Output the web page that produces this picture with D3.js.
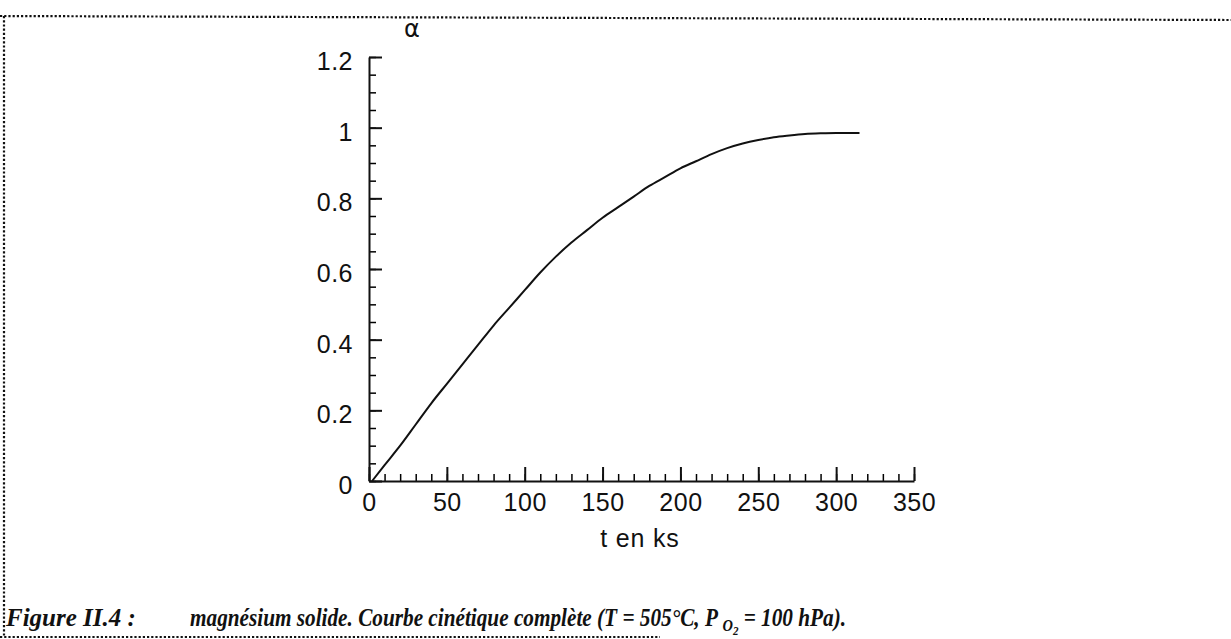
<!DOCTYPE html>
<html>
<head>
<meta charset="utf-8">
<script src="https://cdn.jsdelivr.net/npm/d3@7"></script>
<style>
  body { margin: 0; background: #fff; }
  svg { display: block; }
  .tick text { font-family: "Liberation Sans", Arial, sans-serif; }
</style>
</head>
<body>
<div id="container"></div>
<script>
// kinetic curve
const tValues = [2, 10, 20, 30, 40, 50, 60, 70, 80, 90, 100, 110, 120, 130, 140, 150, 160, 170, 180, 190, 200, 210, 220, 230, 240, 250, 260, 270, 280, 290, 300, 315];
const alphaValues = [0, 0.045, 0.10, 0.16, 0.22, 0.275, 0.33, 0.385, 0.44, 0.49, 0.54, 0.59, 0.635, 0.675, 0.71, 0.745, 0.775, 0.805, 0.835, 0.86, 0.885, 0.905, 0.925, 0.942, 0.955, 0.965, 0.973, 0.978, 0.982, 0.984, 0.985, 0.985];

const xTicks = [0, 50, 100, 150, 200, 250, 300, 350];
const yTicks = [0, 0.2, 0.4, 0.6, 0.8, 1, 1.2];
const xMinor = d3.range(0, 351, 10);
const yMinor = d3.range(0, 1.2001, 0.05);

const w = 1231;
const h = 639;
const margin = {top: 57, left: 369, bottom: 158, right: 317};
const graphWidth = w - margin.left - margin.right;
const graphHeight = h - margin.top - margin.bottom;

const svg = d3.select("#container").append("svg").attr("width", w).attr("height", h);

// dotted frame of the figure
const frame = svg.append("g")
	.attr("fill", "none")
	.attr("stroke", "#111")
	.attr("stroke-width", 2.2)
	.attr("stroke-dasharray", "2.2,2");
frame.append("line").attr("x1", 0).attr("y1", 16).attr("x2", w).attr("y2", 20);
frame.append("line").attr("x1", 4).attr("y1", 16).attr("x2", 4).attr("y2", 637);
frame.append("line").attr("x1", 0).attr("y1", 637).attr("x2", 660).attr("y2", 637);

const graph = svg.append("g").attr("transform", `translate(${margin.left}, ${margin.top})`);

const xScale = d3.scaleLinear().domain([0, 350]).range([0, graphWidth]);
const yScale = d3.scaleLinear().domain([0, 1.2]).range([graphHeight, 0]);

// minor ticks first, majors on top
graph.append("g")
	.attr("transform", `translate(0, ${graphHeight})`)
	.call(d3.axisBottom(xScale).tickValues(xMinor).tickSize(-7).tickFormat(""))
	.call(g => g.select(".domain").remove())
	.call(g => g.selectAll("line").attr("stroke-width", 1.5));
graph.append("g")
	.call(d3.axisLeft(yScale).tickValues(yMinor).tickSize(-7).tickFormat(""))
	.call(g => g.select(".domain").remove())
	.call(g => g.selectAll("line").attr("stroke-width", 1.5));

const xAxis = d3.axisBottom(xScale).tickValues(xTicks).tickSize(-14).tickSizeOuter(0).tickPadding(12).tickFormat(d3.format("d"));
const yAxis = d3.axisLeft(yScale).tickValues(yTicks).tickSize(-13).tickSizeOuter(0).tickPadding(16).tickFormat(d => d);

const xAxisGroup = graph.append("g").attr("transform", `translate(0, ${graphHeight})`).call(xAxis);
const yAxisGroup = graph.append("g").call(yAxis);

[xAxisGroup, yAxisGroup].forEach(g => {
	g.selectAll("path, line").attr("stroke", "#111").attr("stroke-width", 2);
	g.selectAll("text").attr("font-size", 25).attr("letter-spacing", 0.5).attr("fill", "#111");
});
yAxisGroup.selectAll("text").attr("dy", "0.5em");
xAxisGroup.selectAll("text").attr("dy", "0.72em");

// axis titles
graph.append("text")
	.attr("x", xScale(174))
	.attr("y", graphHeight + 66)
	.attr("text-anchor", "middle")
	.attr("font-family", "Liberation Sans, Arial, sans-serif")
	.attr("font-size", 25)
	.attr("letter-spacing", 0.8)
	.attr("fill", "#111")
	.text("t en ks");
graph.append("text")
	.attr("x", 43)
	.attr("y", -20)
	.attr("text-anchor", "middle")
	.attr("font-family", "DejaVu Sans, sans-serif")
	.attr("font-size", 24)
	.attr("fill", "#111")
	.text("α");

// the curve
const points = tValues.map((t, i) => [t, alphaValues[i]]);
const line = d3.line()
	.x(d => xScale(d[0]))
	.y(d => yScale(d[1]))
	.curve(d3.curveMonotoneX);
graph.append("path")
	.datum(points)
	.attr("fill", "none")
	.attr("stroke", "#111")
	.attr("stroke-width", 2)
	.attr("d", line);

// caption
const caption = svg.append("g")
	.attr("font-family", "Liberation Serif, Times New Roman, serif")
	.attr("font-weight", "bold")
	.attr("font-style", "italic")
	.attr("font-size", 25)
	.attr("fill", "#111");
caption.append("text").attr("x", 6).attr("y", 626).text("Figure II.4 :");
const cap = caption.append("text")
	.attr("transform", "translate(190, 626) scale(0.85, 1)");
cap.append("tspan").text("magnésium solide. Courbe cinétique complète (T = 505°C, P ");
cap.append("tspan").attr("dy", 5).attr("font-size", 17).text("O");
cap.append("tspan").attr("dy", 4).attr("font-size", 13).text("2");
cap.append("tspan").attr("dy", -9).text(" = 100 hPa).");
</script>
</body>
</html>
